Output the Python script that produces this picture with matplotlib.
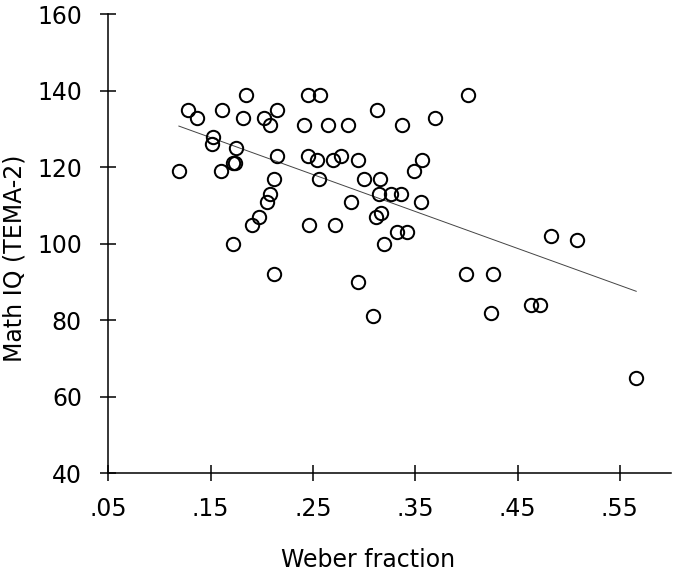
import numpy as np
import matplotlib
matplotlib.use("Agg")
import matplotlib.pyplot as plt

# Weber fraction (w) vs. Math IQ (TEMA-2)
weber = [0.119, 0.128, 0.137, 0.152, 0.151, 0.160, 0.161, 0.172, 0.174, 0.175,
         0.172, 0.182, 0.185, 0.190, 0.197, 0.202, 0.205, 0.208, 0.208, 0.212,
         0.212, 0.215, 0.215, 0.241, 0.245, 0.245, 0.246, 0.254, 0.256, 0.257,
         0.265, 0.270, 0.272, 0.277, 0.284, 0.287, 0.294, 0.294, 0.300, 0.309,
         0.312, 0.313, 0.315, 0.316, 0.317, 0.319, 0.326, 0.332, 0.337, 0.336,
         0.342, 0.349, 0.356, 0.357, 0.369, 0.400, 0.402, 0.424, 0.426, 0.463,
         0.472, 0.483, 0.508, 0.566]
math_iq = [119, 135, 133, 128, 126, 119, 135, 121, 121, 125,
           100, 133, 139, 105, 107, 133, 111, 131, 113, 117,
           92, 135, 123, 131, 139, 123, 105, 122, 117, 139,
           131, 122, 105, 123, 131, 111, 122, 90, 117, 81,
           107, 135, 113, 117, 108, 100, 113, 103, 131, 113,
           103, 119, 111, 122, 133, 92, 139, 82, 92, 84,
           84, 102, 101, 65]

xticks = [0.05, 0.15, 0.25, 0.35, 0.45, 0.55]
xticklabels = [".05", ".15", ".25", ".35", ".45", ".55"]
yticks = [40, 60, 80, 100, 120, 140, 160]

fig = plt.figure(figsize=(6.75, 5.72), dpi=100)
ax = fig.add_axes([0.1604, 0.1726, 0.8337, 0.8024])

# regression line over the range of the data
x = np.array(weber)
slope, icept = np.polyfit(x, math_iq, 1)
xs = np.array([x.min(), x.max()])
ax.plot(xs, slope * xs + icept, color="#444444", lw=0.7, zorder=1)

ax.plot(weber, math_iq, "o", ms=9.6, mfc="none", mec="black", mew=1.45, zorder=2)

ax.set_xlim(0.05, 0.6)
ax.set_ylim(40, 160)
ax.set_xticks(xticks)
ax.set_xticklabels(xticklabels)
ax.set_yticks(yticks)

for s in ["top", "right"]:
    ax.spines[s].set_visible(False)
for s in ["left", "bottom"]:
    ax.spines[s].set_linewidth(1.1)
ax.tick_params(direction="inout", length=12, width=1.1, labelsize=17)
ax.tick_params(axis="x", pad=11)
ax.tick_params(axis="y", pad=13)

ax.set_xlabel("Weber fraction", fontsize=17)
ax.set_ylabel("Math IQ (TEMA-2)", fontsize=17)
ax.xaxis.set_label_coords(0.4615, -0.163)
ax.yaxis.set_label_coords(-0.1445, 0.469)

fig.savefig("out.png", dpi=100)
